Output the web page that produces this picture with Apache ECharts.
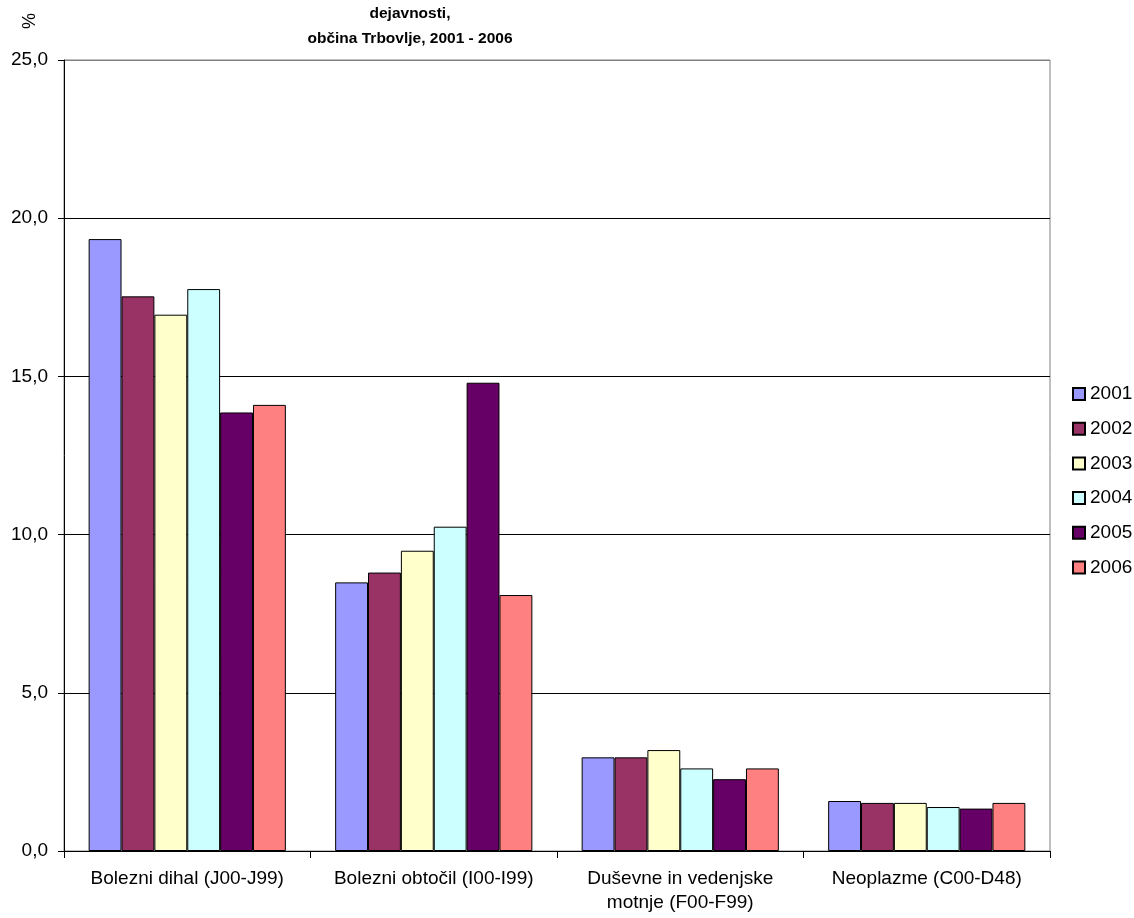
<!DOCTYPE html>
<html><head><meta charset="utf-8">
<script src="https://cdn.jsdelivr.net/npm/echarts@6/dist/echarts.min.js"></script>
<style>html,body{margin:0;padding:0;background:#fff}#c{width:1134px;height:918px}</style>
</head><body><div id="c"></div>
<script>
const categories = ['Bolezni dihal (J00-J99)', 'Bolezni obtočil (I00-I99)', 'Duševne in vedenjske\nmotnje (F00-F99)', 'Neoplazme (C00-D48)'];
const years = ['2001', '2002', '2003', '2004', '2005', '2006'];
const colors = ['#9999FF', '#993366', '#FFFFCC', '#CCFFFF', '#660066', '#FF8080'];
const v2001 = [19.34, 8.49, 2.96, 1.58];
const v2002 = [17.53, 8.80, 2.96, 1.52];
const v2003 = [16.95, 9.49, 3.19, 1.52];
const v2004 = [17.76, 10.25, 2.61, 1.39];
const v2005 = [13.86, 14.80, 2.27, 1.34];
const v2006 = [14.10, 8.09, 2.61, 1.52];
const seriesValues = [v2001, v2002, v2003, v2004, v2005, v2006];
const titleText = 'dejavnosti,\nobčina Trbovlje, 2001 - 2006';
const yAxisName = '%';

const font = 'Liberation Sans, Arial, sans-serif';
const chart = echarts.init(document.getElementById('c'), null, {renderer: 'canvas'});
chart.setOption({
  animation: false,
  backgroundColor: '#fff',
  title: {
    text: titleText, left: 405, top: -4, textAlign: 'center',
    textStyle: {fontFamily: font, fontSize: 15.5, fontWeight: 'bold', color: '#000', lineHeight: 25}
  },
  graphic: [{
    type: 'text', x: 30, y: 21, rotation: Math.PI / 2,
    style: {text: yAxisName, fontFamily: font, fontSize: 18, fill: '#000', align: 'center', verticalAlign: 'middle'}
  }],
  legend: {
    orient: 'vertical', left: 1067, top: 379, itemGap: 14.7,
    itemWidth: 12, itemHeight: 12, icon: 'rect',
    textStyle: {fontFamily: font, fontSize: 19, color: '#000', lineHeight: 20},
    data: years
  },
  grid: {left: 64, right: 84, top: 60, bottom: 67, show: true, borderColor: '#808080', borderWidth: 1, containLabel: false},
  xAxis: {
    type: 'category', data: categories,
    axisLine: {lineStyle: {color: '#000', width: 1}},
    axisTick: {show: true, length: 7, lineStyle: {color: '#000'}},
    axisLabel: {interval: 0, fontFamily: font, fontSize: 19, color: '#000', margin: 16, lineHeight: 24}
  },
  yAxis: {
    type: 'value', min: 0, max: 25, interval: 5,
    axisLine: {show: true, lineStyle: {color: '#000', width: 1}},
    axisTick: {show: true, length: 6, lineStyle: {color: '#000'}},
    axisLabel: {fontFamily: font, fontSize: 19, color: '#000', margin: 16,
      formatter: v => v.toFixed(1).replace('.', ',')},
    splitLine: {show: true, lineStyle: {color: ['#000', '#000', '#000', '#000', '#000', '#808080'], width: 1}}
  },
  series: years.map((y, i) => ({
    name: y, type: 'bar', data: seriesValues[i],
    barGap: '0%', barCategoryGap: '20%',
    itemStyle: {color: colors[i], borderColor: '#000', borderWidth: 1}
  }))
});
</script></body></html>
